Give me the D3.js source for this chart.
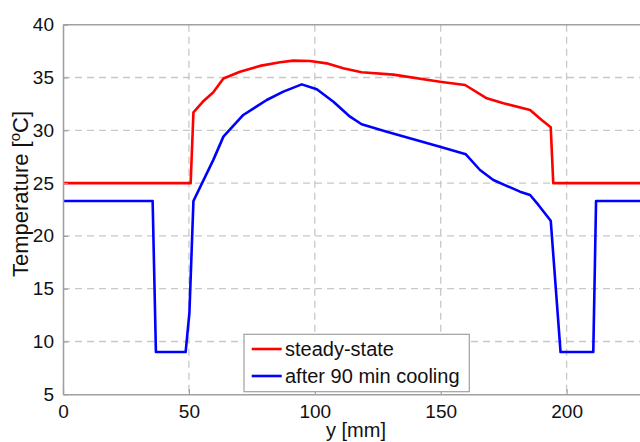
<!DOCTYPE html>
<html>
<head>
<meta charset="utf-8">
<script src="https://cdn.jsdelivr.net/npm/d3@7"></script>
<style>
  body { margin: 0; background: #fff; }
  svg { display: block; font-family: "Liberation Sans", Arial, sans-serif; }
</style>
</head>
<body>
<div id="root"></div>
<script>
// Size of the page
const width = 640;
const height = 442;

// Data (x in mm, temperature in degC)
const steadyX = [0, 50.7, 51.8, 55.5, 59.7, 63.7, 70.3, 78.2, 86.2, 91.5, 98.1, 104.7, 111.3, 118.6, 131.2, 149.7, 159.7, 168.3, 174.9, 185.5, 190.1, 193.7, 194.7, 232];
const steadyT = [25, 25, 31.7, 32.7, 33.6, 34.9, 35.55, 36.1, 36.44, 36.6, 36.56, 36.34, 35.87, 35.5, 35.27, 34.6, 34.29, 33.03, 32.56, 31.92, 30.98, 30.28, 25.0, 25];

const coolingX = [0, 35.6, 36.9, 48.7, 50.2, 51.8, 59.7, 63.7, 71.6, 80.9, 87.5, 94.8, 100.8, 107.4, 114.0, 118.6, 128.6, 149.7, 160.0, 165.6, 170.9, 181.5, 185.5, 188.8, 193.7, 197.6, 210.6, 211.7, 232];
const coolingT = [23.3, 23.3, 9.0, 9.0, 12.7, 23.3, 27.2, 29.4, 31.45, 32.87, 33.66, 34.35, 33.88, 32.71, 31.29, 30.57, 29.87, 28.45, 27.73, 26.24, 25.29, 24.19, 23.87, 22.93, 21.44, 9.0, 9.0, 23.3, 23.3];

const xTicks = [0, 50, 100, 150, 200];
const yTicks = [5, 10, 15, 20, 25, 30, 35, 40];
const seriesNames = ["steady-state", "after 90 min cooling"];
const seriesColors = ["#ff0000", "#0000ff"];

// Plot box
const plotLeft = 63;
const plotTop = 24.7;
const plotBottom = 394.3;
const xMax = 232;

const xScale = d3.scaleLinear().domain([0, xMax]).range([plotLeft, plotLeft + xMax * 2.518]);
const yScale = d3.scaleLinear().domain([5, 40]).range([plotBottom, plotTop]);

const svg = d3
  .select("#root")
  .append("svg")
  .attr("width", width)
  .attr("height", height);

// Grid lines
svg
  .append("g")
  .selectAll("line")
  .data(xTicks.filter(d => d > 0))
  .enter()
  .append("line")
  .attr("x1", d => xScale(d))
  .attr("x2", d => xScale(d))
  .attr("y1", plotTop)
  .attr("y2", plotBottom)
  .attr("stroke", "#c8c8c8")
  .attr("stroke-width", 1.3)
  .attr("stroke-dasharray", "7,5");

svg
  .append("g")
  .selectAll("line")
  .data(yTicks.filter(d => d > 5 && d < 40))
  .enter()
  .append("line")
  .attr("x1", plotLeft)
  .attr("x2", width)
  .attr("y1", d => yScale(d))
  .attr("y2", d => yScale(d))
  .attr("stroke", "#c8c8c8")
  .attr("stroke-width", 1.3)
  .attr("stroke-dasharray", "7,5");

// Lines
const line = d3
  .line()
  .x(d => xScale(d[0]))
  .y(d => yScale(d[1]));

function createLine(xs, ts, color) {
  svg
    .append("path")
    .datum(d3.zip(xs, ts))
    .attr("fill", "none")
    .attr("stroke", color)
    .attr("stroke-width", 2.6)
    .attr("stroke-linejoin", "round")
    .attr("d", line);
}

createLine(steadyX, steadyT, seriesColors[0]);
createLine(coolingX, coolingT, seriesColors[1]);

// Axes
const xAxis = d3.axisBottom(xScale).tickValues(xTicks).tickSizeInner(-5).tickSizeOuter(0).tickPadding(10);
const yAxis = d3.axisLeft(yScale).tickValues(yTicks).tickSizeInner(-5).tickSizeOuter(0).tickPadding(9);

const gx = svg
  .append("g")
  .attr("transform", "translate(0," + plotBottom + ")")
  .call(xAxis);

const gy = svg
  .append("g")
  .attr("transform", "translate(" + plotLeft + ",0)")
  .call(yAxis);

[gx, gy].forEach(g => {
  g.select(".domain").attr("stroke", "#a0a0a0").attr("stroke-width", 1.6);
  g.selectAll(".tick line").attr("stroke", "#a0a0a0").attr("stroke-width", 1.2);
  g.selectAll(".tick text").attr("fill", "#111").attr("font-family", "Liberation Sans, Arial, sans-serif");
});
gx.selectAll(".tick text").attr("font-size", 19);
gy.selectAll(".tick text").attr("font-size", 19);

// Top border
svg
  .append("line")
  .attr("x1", plotLeft)
  .attr("x2", width)
  .attr("y1", plotTop)
  .attr("y2", plotTop)
  .attr("stroke", "#a0a0a0")
  .attr("stroke-width", 1.6);

// Axis labels
svg
  .append("text")
  .attr("x", 356)
  .attr("y", 437)
  .attr("text-anchor", "middle")
  .attr("font-size", 20)
  .attr("fill", "#111")
  .text("y [mm]");

const yLabel = svg
  .append("text")
  .attr("transform", "translate(28,194) rotate(-90)")
  .attr("text-anchor", "middle")
  .attr("font-size", 22)
  .attr("fill", "#111");
yLabel.append("tspan").text("Temperature [");
yLabel.append("tspan").attr("font-size", 15).attr("dy", -8).text("o");
yLabel.append("tspan").attr("dy", 8).text("C]");

// Legend
const legend = svg.append("g").attr("transform", "translate(244,334.3)");

legend
  .append("rect")
  .attr("width", 225.3)
  .attr("height", 57.4)
  .attr("fill", "#fff")
  .attr("stroke", "#a0a0a0")
  .attr("stroke-width", 1.2);

const items = legend
  .selectAll("g")
  .data(seriesNames)
  .enter()
  .append("g")
  .attr("transform", (d, i) => "translate(0," + (14.7 + i * 27) + ")");

items
  .append("line")
  .attr("x1", 7.7)
  .attr("x2", 37.7)
  .attr("stroke", (d, i) => seriesColors[i])
  .attr("stroke-width", 2.6);

items
  .append("text")
  .attr("x", 41)
  .attr("dy", "0.35em")
  .attr("font-size", 20)
  .attr("fill", "#111")
  .text(d => d);
</script>
</body>
</html>
